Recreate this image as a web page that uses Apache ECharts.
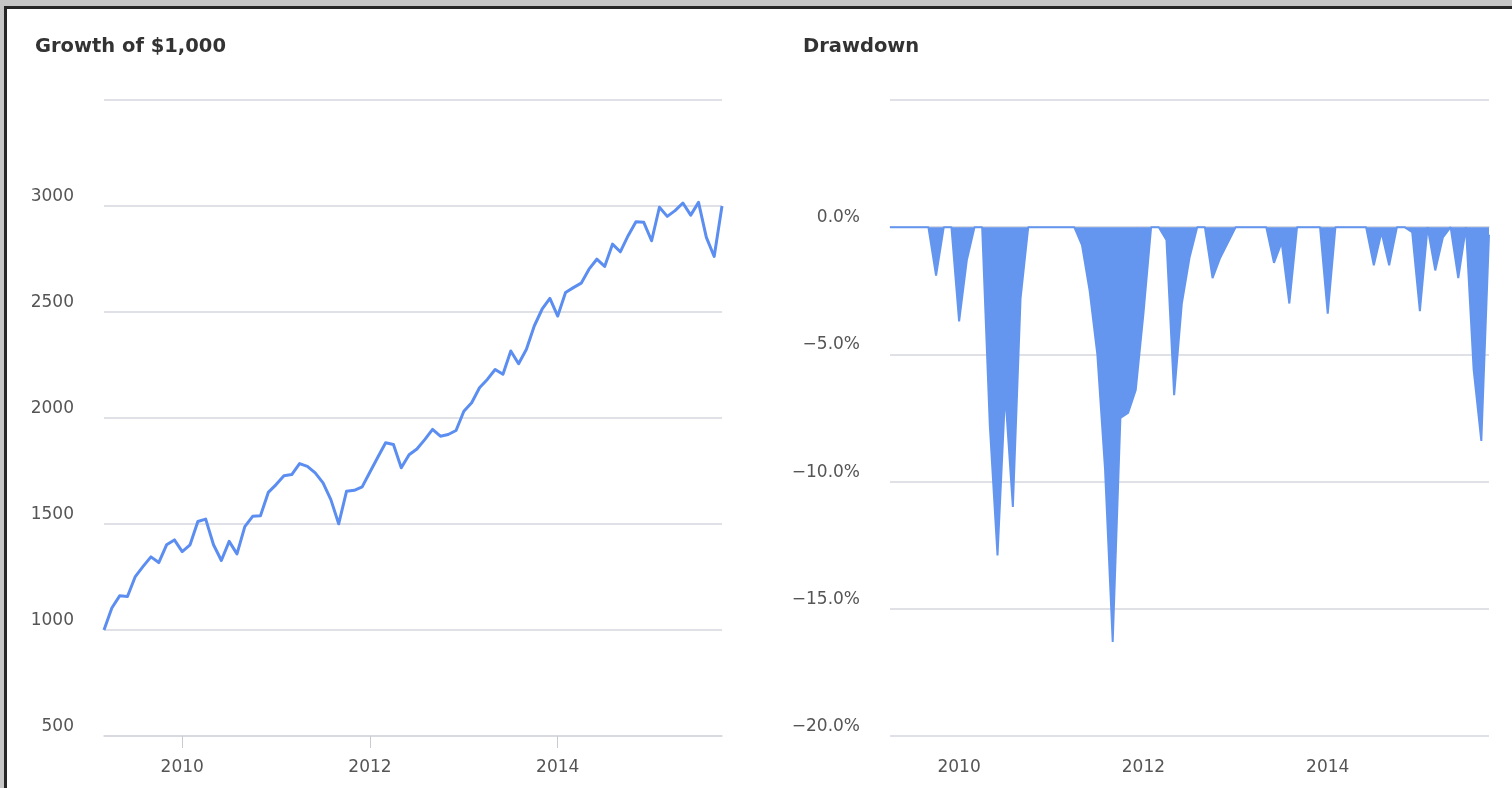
<!DOCTYPE html>
<html>
<head>
<meta charset="utf-8">
<script src="https://cdn.jsdelivr.net/npm/echarts@6/dist/echarts.min.js"></script>
<style>
  html, body { margin: 0; padding: 0; width: 1512px; height: 788px; overflow: hidden; background: #c6c6c6; }
  #frame { position: absolute; left: 4px; top: 6px; right: 0; bottom: 0; background: #ffffff; border-left: 3px solid #262626; border-top: 3px solid #262626; }
  #chart { position: absolute; left: 0; top: 0; width: 1512px; height: 788px; }
</style>
</head>
<body>
<div id="frame"></div>
<div id="chart"></div>
<script>
// Monthly observation dates (growth series starts at $1,000 in 2009-03)
const months = [
  '2009-03','2009-04','2009-05','2009-06','2009-07','2009-08','2009-09','2009-10','2009-11','2009-12',
  '2010-01','2010-02','2010-03','2010-04','2010-05','2010-06','2010-07','2010-08','2010-09','2010-10','2010-11','2010-12',
  '2011-01','2011-02','2011-03','2011-04','2011-05','2011-06','2011-07','2011-08','2011-09','2011-10','2011-11','2011-12',
  '2012-01','2012-02','2012-03','2012-04','2012-05','2012-06','2012-07','2012-08','2012-09','2012-10','2012-11','2012-12',
  '2013-01','2013-02','2013-03','2013-04','2013-05','2013-06','2013-07','2013-08','2013-09','2013-10','2013-11','2013-12',
  '2014-01','2014-02','2014-03','2014-04','2014-05','2014-06','2014-07','2014-08','2014-09','2014-10','2014-11','2014-12',
  '2015-01','2015-02','2015-03','2015-04','2015-05','2015-06','2015-07','2015-08','2015-09','2015-10'
];

// Growth of $1,000
const growthValues = [
  1000,1104,1161,1158,1252,1300,1345,1318,1402,1425,
  1370,1402,1512,1523,1402,1328,1418,1359,1488,1536,1539,1649,
  1686,1728,1733,1785,1772,1741,1694,1615,1501,1654,1659,1675,
  1745,1815,1883,1875,1765,1827,1854,1898,1946,1914,1922,1941,
  2032,2072,2143,2182,2229,2206,2316,2256,2324,2434,2513,2564,
  2481,2592,2615,2636,2702,2749,2715,2820,2784,2860,2926,2923,
  2836,2994,2951,2978,3014,2957,3017,2852,2762,3000
];

// Drawdown (%), starts one month after the growth series
const drawdownMonths = months.slice(1);
const drawdownValues = [
  0,0,0,0,0,0,-1.9,0,0,-3.7,-1.3,0,0,-7.8,-12.9,-6.5,-11.0,-2.8,
  0,0,0,0,0,0,0,-0.7,-2.5,-5.0,-9.5,-16.3,-7.5,-7.3,-6.4,-3.4,
  0,0,-0.5,-6.6,-3.0,-1.2,0,0,-2.0,-1.2,-0.6,0,0,0,0,0,
  -1.4,-0.6,-3.0,0,0,0,0,-3.4,0,0,0,0,0,-1.5,-0.2,-1.5,0,0,
  -0.2,-3.3,0,-1.7,-0.4,0,-2.0,0,-5.6,-8.4,-0.3
];

const yearTicks = [2010, 2012, 2014];
const growthTicks = [500, 1000, 1500, 2000, 2500, 3000, 3500];
const drawdownTicks = [-20, -15, -10, -5, 0, 5];

function toYear(m) {
  const p = m.split('-');
  return Number(p[0]) + (Number(p[1]) - 1) / 12;
}

const growthData = months.map((m, i) => [toYear(m), growthValues[i]]);
const drawdownData = drawdownMonths.map((m, i) => [toYear(m), drawdownValues[i]]);

const FONT = 'DejaVu Sans';
const GRID_COLOR = '#d6d7de';
const LABEL_COLOR = '#555555';
const LINE_BLUE = '#5b8ef0';
const AREA_BLUE = '#6496ef';

function xAxisCfg(gridIndex, minV, maxV) {
  return {
    type: 'value', gridIndex: gridIndex, min: minV, max: maxV,
    axisLine: { show: true, lineStyle: { color: GRID_COLOR, width: 1.5 } },
    axisTick: { show: true, length: 12, customValues: yearTicks, lineStyle: { color: '#c9cad2', width: 1 } },
    axisLabel: {
      customValues: yearTicks, margin: 23,
      fontFamily: FONT, fontSize: 17, color: LABEL_COLOR,
      formatter: v => String(Math.round(v))
    },
    splitLine: { show: false }
  };
}

function yAxisCfg(gridIndex, ticks, fmt) {
  return {
    type: 'value', gridIndex: gridIndex,
    min: ticks[0], max: ticks[ticks.length - 1], interval: ticks[1] - ticks[0],
    axisLine: { show: false }, axisTick: { show: false },
    splitLine: { show: true, lineStyle: { color: GRID_COLOR, width: 1.5 } },
    axisLabel: {
      showMaxLabel: false, margin: 30,
      fontFamily: FONT, fontSize: 17, color: LABEL_COLOR,
      verticalAlign: 'bottom', lineHeight: 17, padding: [0, 0, 1, 0],
      formatter: fmt
    }
  };
}

const chart = echarts.init(document.getElementById('chart'), null, { renderer: 'canvas' });
chart.setOption({
  animation: false,
  backgroundColor: 'transparent',
  title: [
    { text: 'Growth of $1,000', left: 35, top: 37, padding: 0,
      textStyle: { fontFamily: FONT, fontSize: 19.5, fontWeight: 'bold', color: '#333333' } },
    { text: 'Drawdown', left: 803, top: 37, padding: 0,
      textStyle: { fontFamily: FONT, fontSize: 19.5, fontWeight: 'bold', color: '#333333' } }
  ],
  grid: [
    { left: 104, top: 100, width: 618, height: 636 },
    { left: 890, top: 100, width: 599, height: 636 }
  ],
  xAxis: [
    xAxisCfg(0, toYear(months[0]), toYear(months[months.length - 1])),
    xAxisCfg(1, toYear(drawdownMonths[0]), toYear(drawdownMonths[drawdownMonths.length - 1]))
  ],
  yAxis: [
    yAxisCfg(0, growthTicks, v => String(v)),
    yAxisCfg(1, drawdownTicks, v => (v < 0 ? '\u2212' : '') + Math.abs(v).toFixed(1) + '%')
  ],
  series: [
    { type: 'line', xAxisIndex: 0, yAxisIndex: 0, data: growthData,
      showSymbol: false, symbol: 'none',
      lineStyle: { color: LINE_BLUE, width: 3, join: 'round' } },
    { type: 'line', xAxisIndex: 1, yAxisIndex: 1, data: drawdownData,
      showSymbol: false, symbol: 'none',
      lineStyle: { color: AREA_BLUE, width: 2 },
      areaStyle: { color: AREA_BLUE, opacity: 1, origin: 0 } }
  ]
});
</script>
</body>
</html>
